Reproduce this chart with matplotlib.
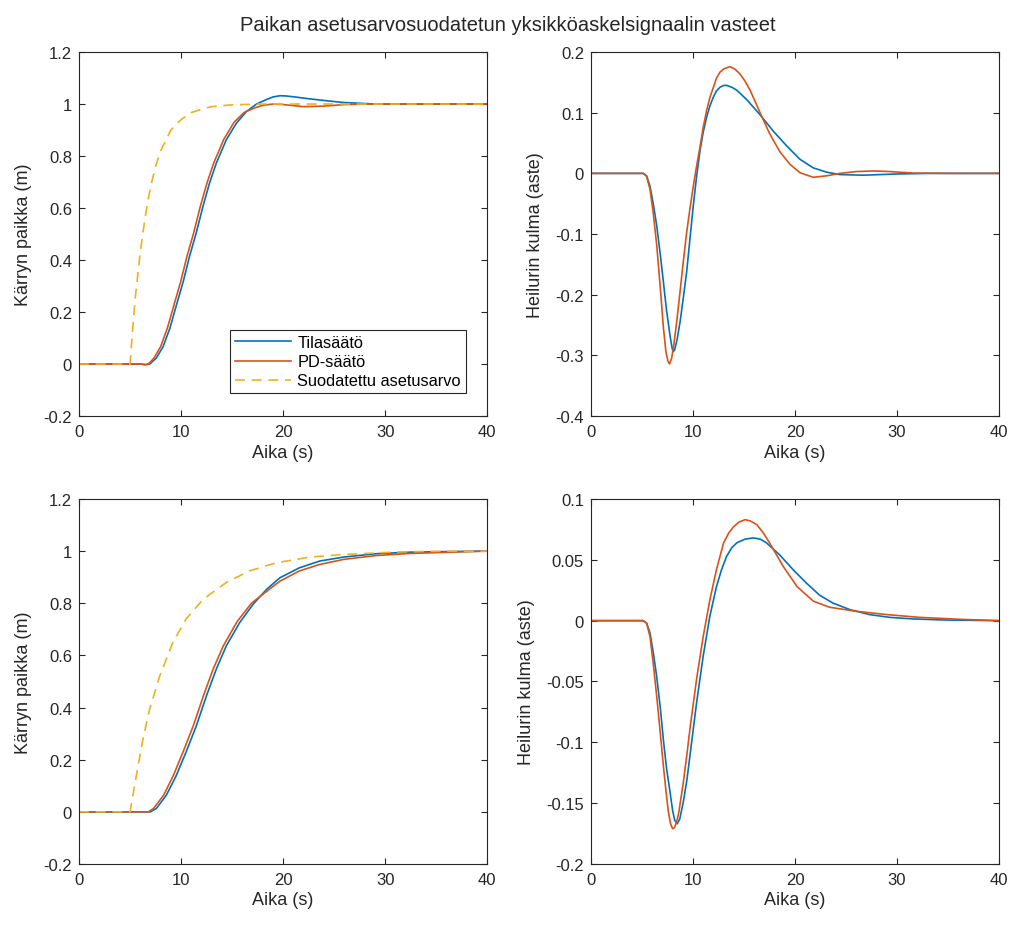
import numpy as np
import matplotlib
matplotlib.use('Agg')
import matplotlib.pyplot as plt
from matplotlib.ticker import FuncFormatter

plt.rcParams['font.family'] = ['Liberation Sans', 'DejaVu Sans']

## colours as in matlab default order
c_blue = '#0072BD'; c_orange = '#D95319'; c_yellow = '#EDB120'

## --- top row: fast setpoint filter ---
# filtered setpoint (position)
t_ref1 = [0, 5, 5.25, 5.5, 6, 6.5, 7, 7.5, 8, 8.5, 9, 10, 11, 12, 13, 15, 18, 40]
y_ref1 = [0, 0, 0.13, 0.25, 0.43, 0.57, 0.68, 0.76, 0.82, 0.86, 0.90, 0.94, 0.967, 0.98, 0.99, 0.997, 1.0, 1.0]
# cart position, state feedback
t_pos1_ss = [0, 6.0, 6.5, 6.93, 7.58, 8.24, 8.9, 9.54, 10.2, 10.85, 11.5, 12.16, 12.8, 13.46, 14.44, 15.42,
             16.4, 17.4, 18.4, 19.0, 19.7, 20.3, 21.0, 22.6, 24.2, 25.9, 27.5, 29.1, 40]
y_pos1_ss = [0, 0, -0.002, 0.0, 0.023, 0.067, 0.137, 0.226, 0.315, 0.417, 0.506, 0.608, 0.697, 0.773, 0.863, 0.926,
             0.971, 1.0, 1.018, 1.027, 1.032, 1.031, 1.028, 1.02, 1.013, 1.006, 1.003, 1.0, 1.0]
# cart position, PD
t_pos1_pd = [0, 6.0, 6.5, 6.8, 7.35, 8.0, 8.65, 9.3, 9.95, 10.6, 11.25, 11.9, 12.55, 13.2, 14.2, 15.2,
             16.2, 17.2, 18.0, 19.0, 20.0, 22.0, 24.0, 26.0, 28.0, 40]
y_pos1_pd = [0, 0, -0.003, 0.0, 0.023, 0.067, 0.137, 0.226, 0.315, 0.417, 0.506, 0.608, 0.697, 0.773, 0.865, 0.93,
             0.968, 0.985, 0.995, 1.0, 0.998, 0.99, 0.992, 0.998, 1.0, 1.0]
# pendulum angle, state feedback
t_ang1_ss = [0, 5.13, 5.45, 5.78, 6.1, 6.44, 6.8, 7.09, 7.4, 7.75, 7.95, 8.05, 8.2, 8.45, 8.73, 9.05, 9.38, 9.7,
             10.03, 10.35, 10.7, 11.0, 11.34, 11.65, 12.0, 12.3, 12.65, 13.0, 13.3, 13.8, 14.3, 15.3,
             16.6, 17.9, 19.2, 20.5, 21.8, 23.1, 24.4, 26.7, 30.0, 33.2, 40]
y_ang1_ss = [0, 0, -0.004, -0.021, -0.05, -0.086, -0.135, -0.178, -0.225, -0.268, -0.288, -0.294, -0.291, -0.273,
             -0.245, -0.205, -0.162, -0.108, -0.053, -0.005, 0.039, 0.068, 0.093, 0.111, 0.126, 0.136, 0.142, 0.145,
             0.145, 0.142, 0.137, 0.121, 0.096, 0.069, 0.045, 0.023, 0.009, 0.002, -0.002, -0.003, -0.001, 0.0, 0.0]
# pendulum angle, PD
t_ang1_pd = [0, 5.13, 5.45, 5.78, 6.1, 6.44, 6.8, 7.1, 7.35, 7.55, 7.7, 7.9, 8.1, 8.4, 8.73, 9.05, 9.38, 9.7,
             10.03, 10.35, 10.7, 11.0, 11.34, 11.65, 12.0, 12.3, 12.65, 13.0, 13.6, 14.1, 14.6, 15.1,
             15.6, 16.6, 17.5, 18.5, 19.5, 20.5, 21.8, 23.1, 24.4, 26.0, 27.7, 29.3, 31.6, 34.9, 40]
y_ang1_pd = [0, 0, -0.005, -0.026, -0.065, -0.118, -0.19, -0.255, -0.295, -0.31, -0.314, -0.305, -0.285, -0.245,
             -0.195, -0.145, -0.097, -0.058, -0.021, 0.012, 0.045, 0.076, 0.104, 0.125, 0.142, 0.157, 0.167, 0.172,
             0.176, 0.172, 0.164, 0.152, 0.137, 0.099, 0.066, 0.036, 0.015, 0.001, -0.0065, -0.004, 0.0, 0.003,
             0.004, 0.003, 0.0005, 0.0, 0.0]

## --- bottom row: slow setpoint filter ---
t_ref2 = [0, 5, 5.62, 6.27, 6.93, 7.9, 9.2, 10.5, 12.16, 14.44, 16.7, 19.3, 22.6, 25.9, 30.8, 34.0, 40]
y_ref2 = [0, 0, 0.14, 0.28, 0.395, 0.52, 0.65, 0.74, 0.815, 0.88, 0.924, 0.955, 0.977, 0.987, 0.996, 0.999, 1.0]
t_pos2_ss = [0, 6.5, 7.0, 7.58, 8.56, 9.54, 10.5, 11.5, 12.5, 13.46, 14.44, 15.75, 17.06, 18.4, 19.7, 21.6, 23.6,
             25.9, 29.1, 32.4, 37.3, 40]
y_pos2_ss = [0, 0, 0.0, 0.013, 0.064, 0.14, 0.23, 0.33, 0.446, 0.548, 0.637, 0.726, 0.796, 0.854, 0.898, 0.936,
             0.962, 0.977, 0.99, 0.996, 0.999, 1.0]
t_pos2_pd = [0, 6.5, 6.8, 7.3, 8.3, 9.25, 10.2, 11.2, 12.2, 13.15, 14.15, 15.5, 16.9, 17.7, 19.7, 21.6, 23.6,
             25.9, 29.1, 32.4, 37.3, 40]
y_pos2_pd = [0, 0, 0.0, 0.013, 0.064, 0.14, 0.23, 0.33, 0.446, 0.548, 0.637, 0.73, 0.80, 0.825, 0.885, 0.924,
             0.949, 0.968, 0.983, 0.991, 0.997, 1.0]
t_ang2_ss = [0, 5.1, 5.45, 5.78, 6.1, 6.44, 6.8, 7.09, 7.4, 7.75, 8.0, 8.2, 8.45, 8.7, 9.05, 9.4, 9.7, 10.35, 11.0,
             11.65, 12.3, 12.8, 13.3, 13.8, 14.3, 15.1, 15.9, 16.6, 17.2, 18.5, 19.8, 21.1, 22.4, 23.7, 25.4, 27.3,
             29.3, 31.6, 34.8, 40]
y_ang2_ss = [0, 0, -0.002, -0.010, -0.026, -0.046, -0.072, -0.0975, -0.121, -0.141, -0.156, -0.164, -0.167,
             -0.163, -0.149, -0.131, -0.111, -0.0675, -0.029, 0.0036, 0.028, 0.042, 0.053, 0.06, 0.064, 0.067,
             0.068, 0.067, 0.064, 0.054, 0.042, 0.031, 0.021, 0.0145, 0.009, 0.005, 0.0027, 0.0014, 0.0005, 0.0]
t_ang2_pd = [0, 5.1, 5.45, 5.78, 6.1, 6.44, 6.8, 7.09, 7.35, 7.58, 7.8, 8.0, 8.2, 8.4, 8.6, 9.05, 9.4, 9.7, 10.35,
             11.0, 11.65, 12.3, 13.0, 13.5, 13.96, 14.5, 15.1, 15.6, 16.25, 16.9, 17.5, 18.85, 20.2, 21.8, 23.4,
             26.0, 29.0, 32.2, 36.5, 40]
y_ang2_pd = [0, 0, -0.002, -0.013, -0.035, -0.062, -0.093, -0.119, -0.14, -0.157, -0.167, -0.171, -0.170,
             -0.165, -0.158, -0.133, -0.11, -0.089, -0.048, -0.013, 0.017, 0.042, 0.064, 0.072, 0.077, 0.081,
             0.083, 0.082, 0.079, 0.072, 0.064, 0.0445, 0.028, 0.016, 0.011, 0.0077, 0.005, 0.0027, 0.001, 0.0]

legend_labels = ['Tilasäätö', 'PD-säätö', 'Suodatettu asetusarvo']
x_ticks = [0, 10, 20, 30, 40]
yticks_pos = np.arange(-0.2, 1.21, 0.2)
yticks_ang1 = np.arange(-0.4, 0.21, 0.1)
yticks_ang2 = np.arange(-0.2, 0.11, 0.05)

fmt = FuncFormatter(lambda v, p: '%g' % (round(v, 4) + 0.0))

fig = plt.figure(figsize=(10.16, 9.29), dpi=100)
W = 0.4016
ax1 = fig.add_axes([0.0778, 0.5511, W, 0.3918])
ax2 = fig.add_axes([0.5817, 0.5511, W, 0.3918])
ax3 = fig.add_axes([0.0778, 0.0689, W, 0.3929])
ax4 = fig.add_axes([0.5817, 0.0689, W, 0.3929])

lw = 1.2
ax1.plot(t_pos1_ss, y_pos1_ss, color=c_blue, lw=lw, label=legend_labels[0])
ax1.plot(t_pos1_pd, y_pos1_pd, color=c_orange, lw=lw, label=legend_labels[1])
ax1.plot(t_ref1, y_ref1, color=c_yellow, lw=lw, ls=(0, (6, 4)), label=legend_labels[2])
ax2.plot(t_ang1_ss, y_ang1_ss, color=c_blue, lw=lw)
ax2.plot(t_ang1_pd, y_ang1_pd, color=c_orange, lw=lw)
ax3.plot(t_pos2_ss, y_pos2_ss, color=c_blue, lw=lw)
ax3.plot(t_pos2_pd, y_pos2_pd, color=c_orange, lw=lw)
ax3.plot(t_ref2, y_ref2, color=c_yellow, lw=lw, ls=(0, (6, 4)))
ax4.plot(t_ang2_ss, y_ang2_ss, color=c_blue, lw=lw)
ax4.plot(t_ang2_pd, y_ang2_pd, color=c_orange, lw=lw)

for ax, yt, ylab in [(ax1, yticks_pos, 'Kärryn paikka (m)'), (ax2, yticks_ang1, 'Heilurin kulma (aste)'),
                     (ax3, yticks_pos, 'Kärryn paikka (m)'), (ax4, yticks_ang2, 'Heilurin kulma (aste)')]:
    ax.set_xlim(0, 40); ax.set_ylim(yt[0], yt[-1])
    ax.set_xticks(x_ticks); ax.set_yticks(yt)
    ax.yaxis.set_major_formatter(fmt)
    ax.tick_params(direction='in', top=True, right=True, labelsize=12, colors='#262626', length=4, width=0.8)
    ax.tick_params(axis='x', pad=6)
    ax.tick_params(axis='y', pad=5)
    for s in ax.spines.values():
        s.set_color('#262626'); s.set_linewidth(0.8)
    ax.set_xlabel('Aika (s)', fontsize=13, color='#262626', labelpad=3)
    ax.set_ylabel(ylab, fontsize=13, color='#262626', labelpad=8)

leg = ax1.legend(loc='lower right', bbox_to_anchor=(0.968, 0.04), fontsize=11.8, fancybox=False,
                 edgecolor='#262626', framealpha=1, handlelength=3.4, borderpad=0.3, labelspacing=0.25,
                 handletextpad=0.4)
leg.get_frame().set_linewidth(0.8)

fig.suptitle('Paikan asetusarvosuodatetun yksikköaskelsignaalin vasteet', fontsize=14.5, y=0.983, color='#262626')
fig.savefig('out.png', dpi=100)
